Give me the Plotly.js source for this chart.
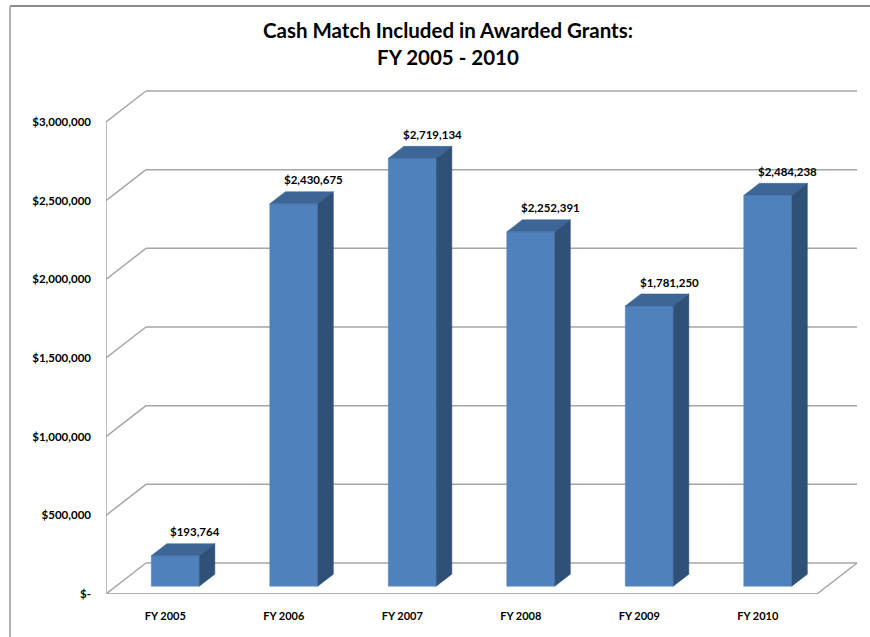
<!DOCTYPE html>
<html>
<head>
<meta charset="utf-8">
<script src="https://cdn.plot.ly/plotly-3.0.1.min.js"></script>
<style>html,body{margin:0;padding:0;background:#fff;}#chart{width:870px;height:637px;}</style>
</head>
<body>
<div id="chart"></div>
<script>
// ---- data ----
const categories = ["FY 2005", "FY 2006", "FY 2007", "FY 2008", "FY 2009", "FY 2010"];
const values = [193764, 2430675, 2719134, 2252391, 1781250, 2484238];
const valueLabels = ["$193,764", "$2,430,675", "$2,719,134", "$2,252,391", "$1,781,250", "$2,484,238"];
const yTickVals = [0, 500000, 1000000, 1500000, 2000000, 2500000, 3000000];
const yTickText = ["$-", "$500,000", "$1,000,000", "$1,500,000", "$2,000,000", "$2,500,000", "$3,000,000"];

// ---- geometry (pixel scale -> data units) ----
const W = 870, H = 637;
const M = {l: 106, r: 10, t: 80, b: 43};
const plotW = W - M.l - M.r, plotH = H - M.t - M.b;
const pxPerSlot = 118.5;               // px per category slot
const pxPerDollar = 472 / 3000000;     // px per dollar
const xMax = plotW / pxPerSlot;
const yMax = plotH / pxPerDollar;
const depthX = 40 / pxPerSlot;         // 3D depth offset, x units
const depthY = 31 / pxPerDollar;       // 3D depth offset, y units
const f0 = 0.25, f1 = 0.64;            // bar front / back depth fractions
const halfW = 24 / pxPerSlot;
const nCat = categories.length;

const gridColor = "#a6a6a6";
const shapes = [];
function line(x0, y0, x1, y1, color, width) {
  shapes.push({type: "line", xref: "x", yref: "y", x0, y0, x1, y1, layer: "below",
    line: {color: color || gridColor, width: width || 1.5}});
}
// gridlines on side wall and back wall
yTickVals.forEach(v => {
  line(0, v, depthX, v + depthY);
  line(depthX, v + depthY, nCat + depthX, v + depthY);
});
// floor
line(0, 0, nCat, 0, "#b0b0b0", 2);
line(nCat, 0, nCat + depthX, depthY);
// left axis line
line(0, 0, 0, yTickVals[yTickVals.length - 1]);
// outer chart border
shapes.push({type: "line", xref: "paper", yref: "paper", x0: (10 - M.l) / plotW, x1: (W + 5 - M.l) / plotW,
  y0: (H - 6 - M.b) / plotH, y1: (H - 6 - M.b) / plotH, line: {color: "#8c8c8c", width: 2}});
shapes.push({type: "line", xref: "paper", yref: "paper", x0: (10 - M.l) / plotW, x1: (10 - M.l) / plotW,
  y0: (H - 6 - M.b) / plotH, y1: -M.b / plotH - 0.05, line: {color: "#b4b4b4", width: 2}});

const traces = [];
// front faces as bars
traces.push({
  type: "bar",
  x: categories.map((c, i) => i + 0.5 + f0 * depthX),
  y: values,
  base: values.map(() => f0 * depthY),
  width: 2 * halfW,
  marker: {color: "#4f81bd", line: {color: "#5a8ac4", width: 0.5}},
  hoverinfo: "skip"
});
// top and side faces
values.forEach((v, i) => {
  const xl = i + 0.5 - halfW, xr = i + 0.5 + halfW;
  const top = {
    type: "scatter", mode: "lines", fill: "toself", fillcolor: "#3d6596",
    line: {color: "#3d6596", width: 0.5}, hoverinfo: "skip",
    x: [xl + f0 * depthX, xr + f0 * depthX, xr + f1 * depthX, xl + f1 * depthX, xl + f0 * depthX],
    y: [v + f0 * depthY, v + f0 * depthY, v + f1 * depthY, v + f1 * depthY, v + f0 * depthY]
  };
  const side = {
    type: "scatter", mode: "lines", fill: "toself", fillcolor: "#2f5178",
    line: {color: "#2f5178", width: 0.5}, hoverinfo: "skip",
    x: [xr + f0 * depthX, xr + f0 * depthX, xr + f1 * depthX, xr + f1 * depthX, xr + f0 * depthX],
    y: [f0 * depthY, v + f0 * depthY, v + f1 * depthY, f1 * depthY, f0 * depthY]
  };
  traces.push(top, side);
});

const annotations = values.map((v, i) => ({
  x: i + 0.5 + 30 / pxPerSlot, y: v + f0 * depthY, xref: "x", yref: "y",
  text: valueLabels[i], showarrow: false, yshift: 24, xanchor: "center", yanchor: "middle",
  font: {family: "Lato, sans-serif", size: 11.5, color: "#000", weight: "bold"}
}));

const layout = {
  width: W, height: H,
  margin: M,
  paper_bgcolor: "#fff", plot_bgcolor: "rgba(0,0,0,0)",
  showlegend: false,
  title: {
    text: "Cash Match Included in Awarded Grants:<br>FY 2005 - 2010",
    x: 448 / W, xanchor: "center", xref: "container",
    y: 1 - 38 / H, yanchor: "top", yref: "container",
    font: {family: "Lato, sans-serif", size: 20.5, color: "#000", weight: "bold"}
  },
  xaxis: {
    range: [0, xMax], showgrid: false, zeroline: false, showline: false,
    tickvals: categories.map((c, i) => i + 0.5), ticktext: categories, ticks: "",
    ticklabelstandoff: 14,
    tickfont: {family: "Lato, sans-serif", size: 11, color: "#000", weight: "bold"},
    fixedrange: true
  },
  yaxis: {
    range: [0, yMax], showgrid: false, zeroline: false, showline: false,
    tickvals: yTickVals, ticktext: yTickText, ticks: "",
    ticklabelstandoff: 14,
    tickfont: {family: "Lato, sans-serif", size: 11.5, color: "#000", weight: "bold"},
    fixedrange: true
  },
  shapes, annotations,
  bargap: 0
};

Plotly.newPlot("chart", traces, layout, {displayModeBar: false, staticPlot: true});
</script>
</body>
</html>
